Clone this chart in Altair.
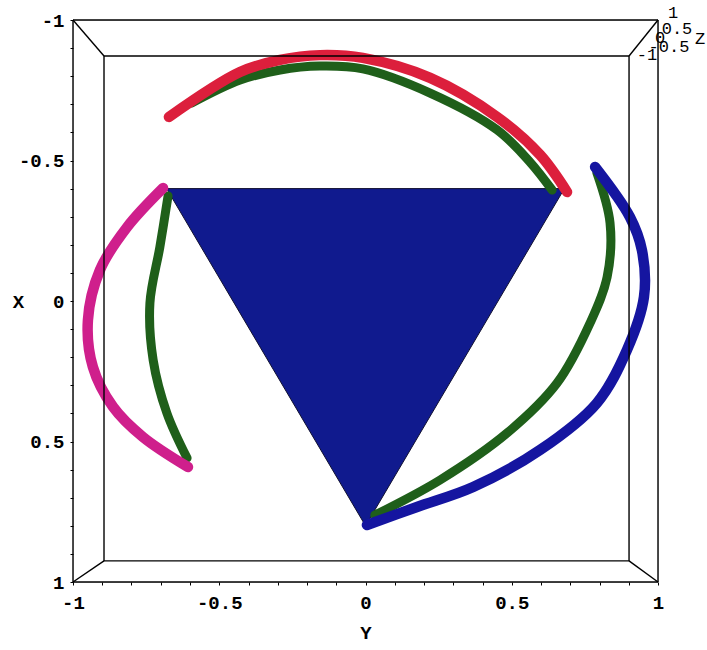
import altair as alt
import pandas as pd

# Horizontal coordinate is Y, vertical coordinate is X (X = -1 at the top).
TRI_Y = [-0.68, 0.68, 0.0]
TRI_X = [-0.40, -0.40, 0.80]

RED_Y = [-0.672, -0.429, -0.292, -0.156, -0.009, 0.221, 0.450, 0.597, 0.689]
RED_X = [-0.655, -0.815, -0.858, -0.875, -0.865, -0.794, -0.655, -0.520, -0.388]

GREEN_TOP_Y = [-0.593, -0.429, -0.292, -0.156, -0.009, 0.221, 0.450, 0.562, 0.638]
GREEN_TOP_X = [-0.705, -0.786, -0.822, -0.836, -0.826, -0.740, -0.609, -0.495, -0.395]

MAGENTA_Y = [-0.692, -0.815, -0.908, -0.949, -0.932, -0.863, -0.761, -0.607]
MAGENTA_X = [-0.402, -0.263, -0.110, 0.068, 0.235, 0.377, 0.484, 0.591]

GREEN_LEFT_Y = [-0.675, -0.703, -0.737, -0.726, -0.679, -0.610]
GREEN_LEFT_X = [-0.374, -0.192, 0.007, 0.210, 0.399, 0.559]

BLUE_Y = [0.785, 0.904, 0.945, 0.952, 0.894, 0.791, 0.597, 0.368, 0.176, 0.005]
BLUE_X = [-0.477, -0.299, -0.181, -0.014, 0.174, 0.363, 0.530, 0.662, 0.733, 0.797]

GREEN_RIGHT_Y = [0.791, 0.836, 0.826, 0.768, 0.655, 0.484, 0.255, 0.032]
GREEN_RIGHT_X = [-0.456, -0.278, -0.085, 0.078, 0.292, 0.470, 0.637, 0.762]

# Box edges: top face (outer) and bottom face (inner) of the 3D bounding box
OUTER = [-1.0, 1.0, -1.0, 1.0]          # Ymin, Ymax, Xmin, Xmax
INNER = [-0.894, 0.901, -0.872, 0.925]  # Ymin, Ymax, Xmin, Xmax

TICKS = [-1.0, -0.9, -0.8, -0.7, -0.6, -0.5, -0.4, -0.3, -0.2, -0.1, 0.0,
         0.1, 0.2, 0.3, 0.4, 0.5, 0.6, 0.7, 0.8, 0.9, 1.0]
Z_LABELS = ["1", "0.5", "0", "-0.5", "-1", "Z"]

FONT = "Liberation Mono"


def path_df(ys, xs):
    return pd.DataFrame({"Y": ys, "X": xs, "i": list(range(len(ys)))})


def box_segments():
    oy0, oy1, ox0, ox1 = OUTER
    iy0, iy1, ix0, ix1 = INNER
    segs = []
    for (a, b, c, d) in [(oy0, oy1, ox0, ox0), (oy0, oy1, ox1, ox1),
                         (oy0, oy0, ox0, ox1), (oy1, oy1, ox0, ox1),
                         (iy0, iy1, ix0, ix0), (iy0, iy1, ix1, ix1),
                         (iy0, iy0, ix0, ix1), (iy1, iy1, ix0, ix1),
                         (oy0, iy0, ox0, ix0), (oy1, iy1, ox0, ix0),
                         (oy0, iy0, ox1, ix1), (oy1, iy1, ox1, ix1)]:
        segs.append({"Y": a, "Y2": b, "X": c, "X2": d})
    return pd.DataFrame(segs)


label_expr = ("abs(datum.value*2 - round(datum.value*2)) < 0.000001 ? "
              "(datum.value < 0 ? '-' : '') + format(abs(datum.value), '~g') : ''")

x_enc = alt.X("Y:Q",
              scale=alt.Scale(domain=[-1, 1], nice=False, zero=False),
              axis=alt.Axis(values=TICKS, labelExpr=label_expr, title="Y",
                            domain=False, grid=False, tickSize=3,
                            tickColor="black", tickWidth=1,
                            labelFont=FONT, labelFontSize=19,
                            labelFontWeight="bold",
                            labelColor="black", labelPadding=8,
                            labelFlush=False, labelOverlap=False,
                            labelBound=False,
                            titleFont=FONT, titleFontSize=19,
                            titleFontWeight="bold", titleColor="black",
                            titleY=50, titleBaseline="middle"))
y_enc = alt.Y("X:Q",
              scale=alt.Scale(domain=[-1, 1], nice=False, zero=False,
                              reverse=True),
              axis=alt.Axis(values=TICKS, labelExpr=label_expr, title="X",
                            domain=False, grid=False, tickSize=3,
                            tickColor="black", tickWidth=1,
                            labelFont=FONT, labelFontSize=19,
                            labelFontWeight="bold",
                            labelColor="black", labelPadding=6,
                            labelFlush=False, labelOverlap=False,
                            labelBound=False,
                            titleFont=FONT, titleFontSize=19,
                            titleFontWeight="bold", titleColor="black",
                            titleAngle=0, titleX=-55, titleY=281,
                            titleAlign="center", titleBaseline="middle"))

frame = alt.Chart(box_segments()).mark_rule(
    color="black", strokeWidth=1.4
).encode(x=x_enc, y=y_enc, x2="Y2:Q", y2="X2:Q")

triangle = alt.Chart(path_df(TRI_Y, TRI_X)).mark_line(
    interpolate="linear-closed", fill="#101a8e", stroke="#101030",
    strokeWidth=1
).encode(x=x_enc, y=y_enc, order="i:Q")


def curve(ys, xs, color, width=10):
    return alt.Chart(path_df(ys, xs)).mark_line(
        color=color, strokeWidth=width, strokeCap="round", strokeJoin="round",
        interpolate="catmull-rom"
    ).encode(x=x_enc, y=y_enc, order="i:Q")


curves = [
    curve(GREEN_TOP_Y, GREEN_TOP_X, "#1f5f1a", 9),
    curve(GREEN_LEFT_Y, GREEN_LEFT_X, "#1f5f1a", 9),
    curve(GREEN_RIGHT_Y, GREEN_RIGHT_X, "#1f5f1a", 9),
    curve(RED_Y, RED_X, "#dc1f3c", 10.5),
    curve(MAGENTA_Y, MAGENTA_X, "#cf1f8c", 10.5),
    curve(BLUE_Y, BLUE_X, "#1515a0", 10.5),
]

# Z-axis labels crowded into the far top-right corner of the box
z_places = [(600, -7), (604, 9), (587, 18), (596, 27), (574, 35), (627, 19)]
z_texts = []
for lab, (px, py) in zip(Z_LABELS, z_places):
    z_texts.append(
        alt.Chart(pd.DataFrame({"t": [lab]})).mark_text(
            font=FONT, fontSize=17, color="black", align="center",
            baseline="middle"
        ).encode(text="t:N", x=alt.value(px), y=alt.value(py))
    )

chart = alt.layer(triangle, *curves, frame, *z_texts).properties(
    width=585, height=562,
    autosize=alt.AutoSizeParams(type="none"),
    padding={"left": 73, "top": 20, "right": 49, "bottom": 68},
).configure_view(stroke=None).configure(background="white")

chart.save("out.html", embed_options={"renderer": "svg", "actions": False})
